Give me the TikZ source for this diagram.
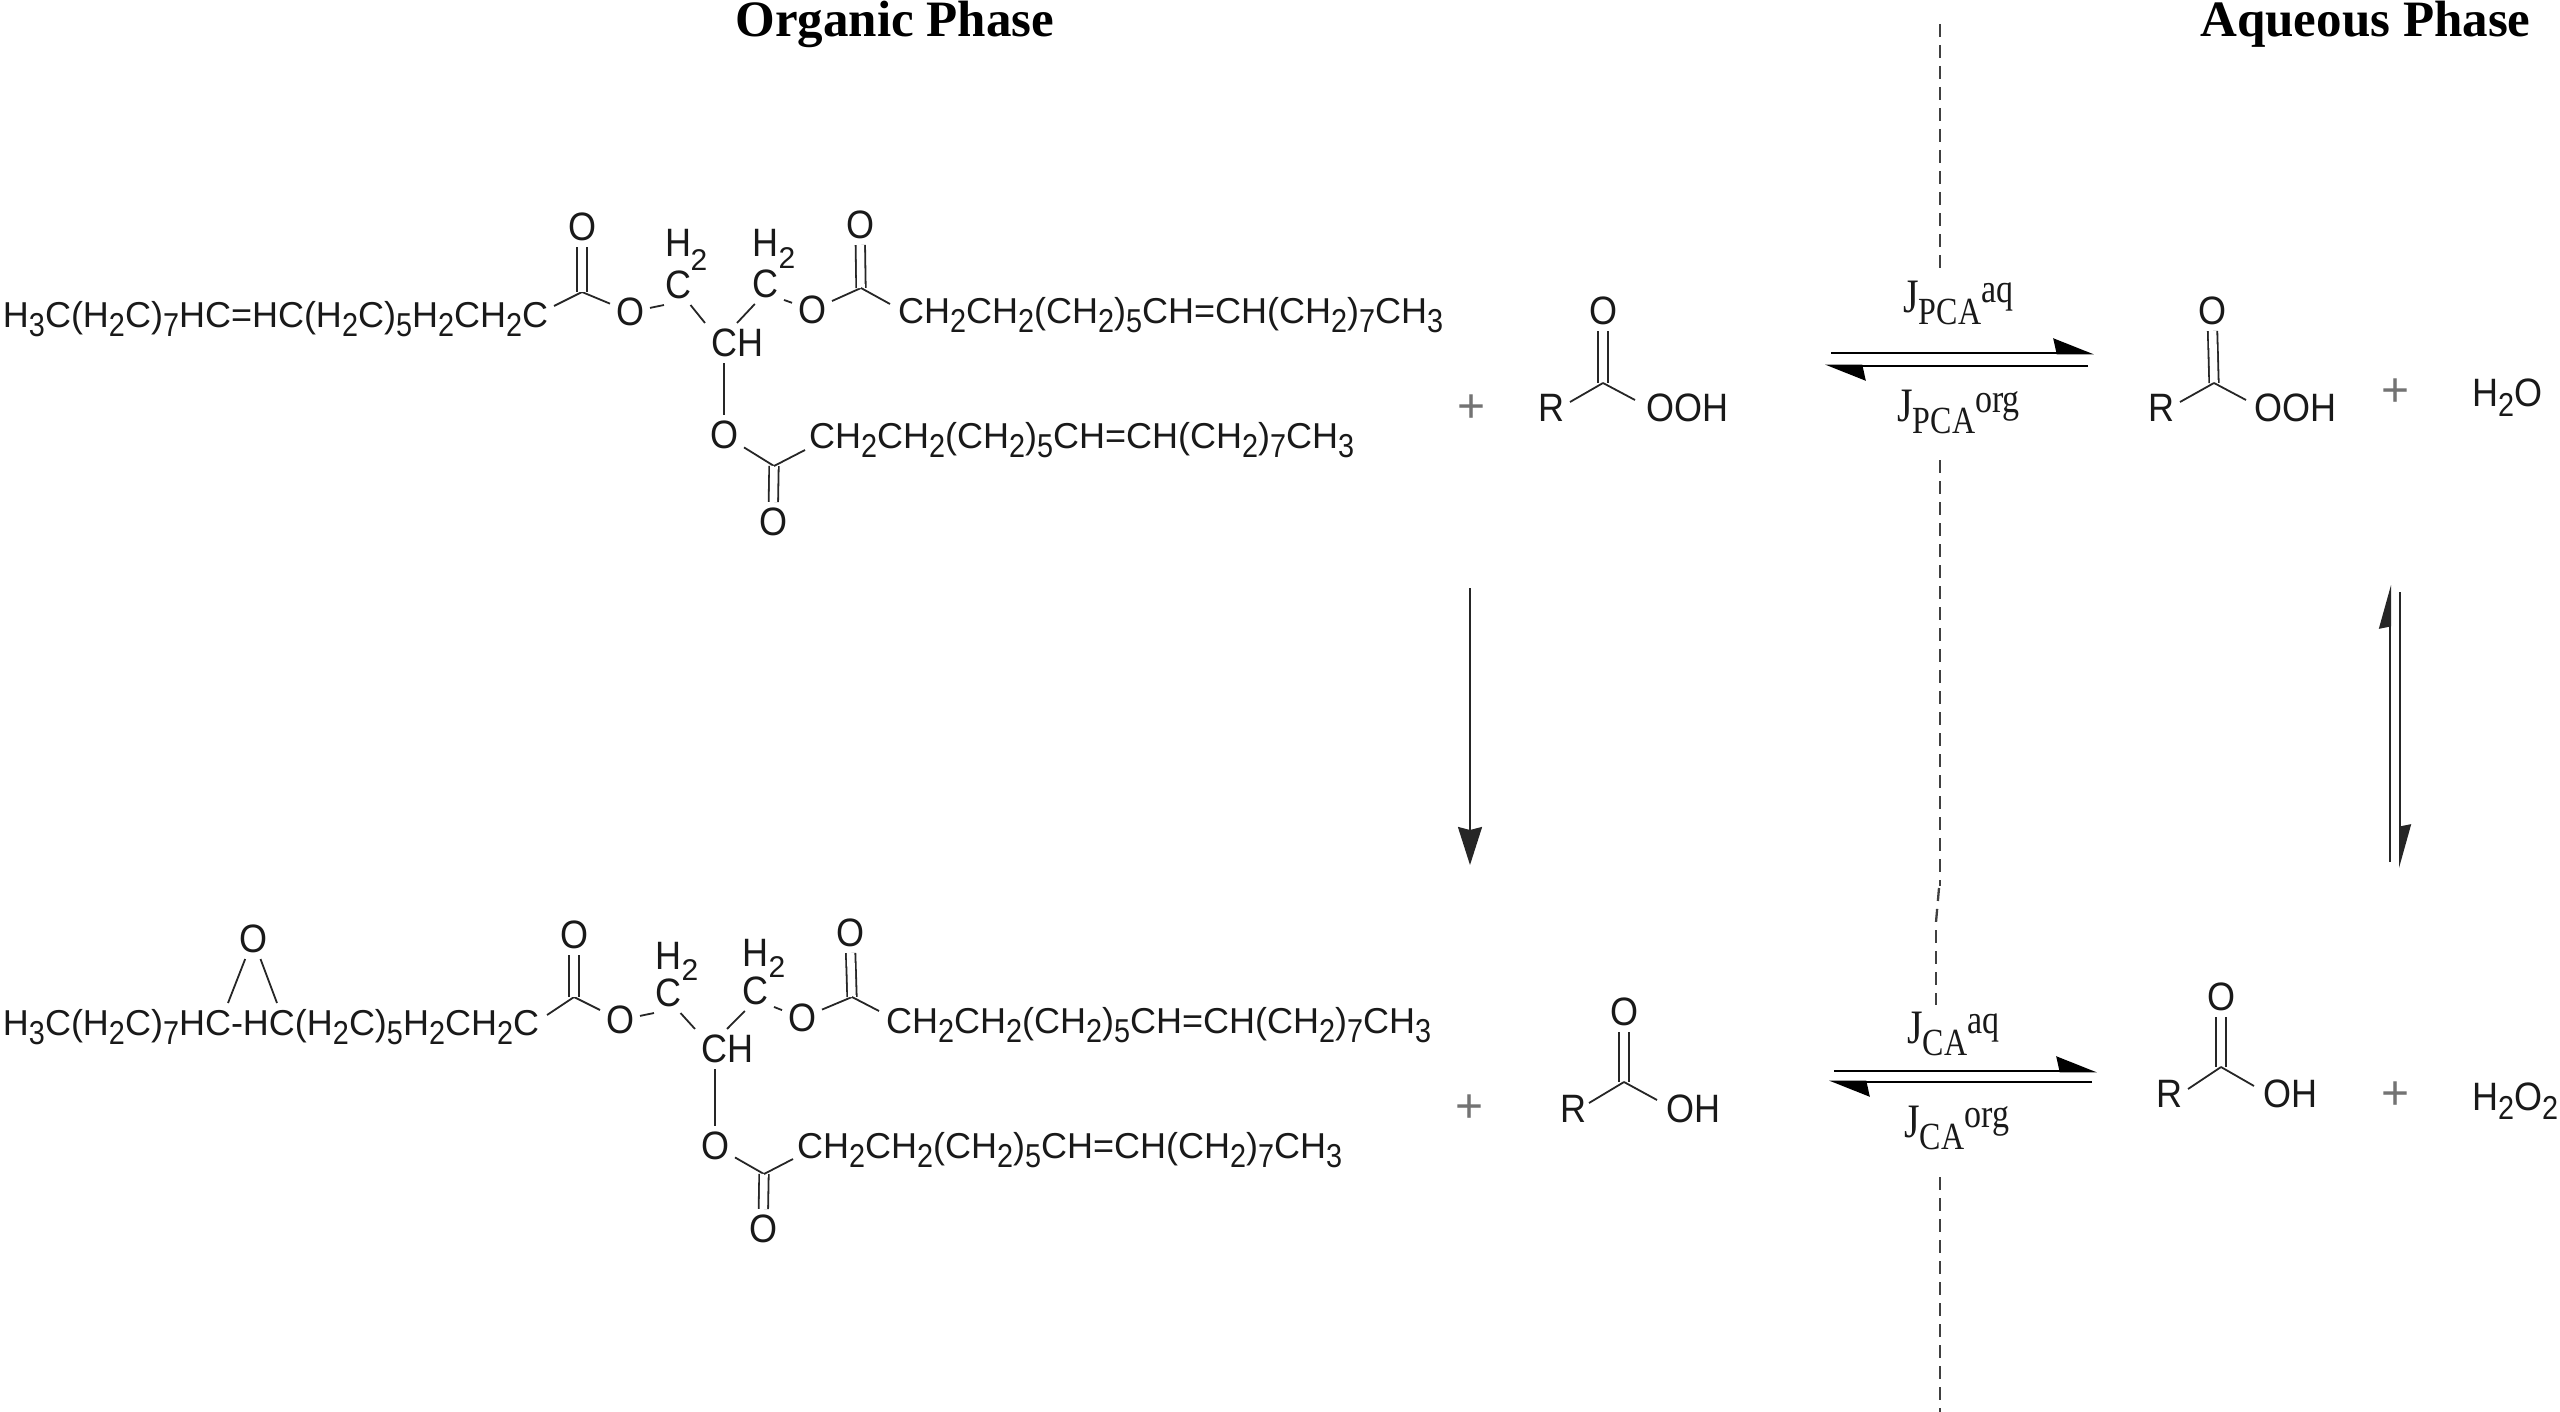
\documentclass[tikz,border=0pt]{standalone}
\usepackage{fontspec}
\usepackage{graphicx}
\setmainfont{Liberation Sans}
\newfontfamily\serifx{Liberation Serif}
\usetikzlibrary{arrows.meta,calc}
\newcommand\sbs[1]{\raisebox{-4.5pt}{\scalebox{1}[1.15]{\fontsize{14.4}{14.4}\selectfont #1}}}
\newcommand\tall[1]{\scalebox{1}[1.1]{#1}}
\newcommand\jlab[3]{\scalebox{1}[1.2]{\fontsize{20}{20}\selectfont J}\raisebox{-6pt}{\scalebox{1}[1.2]{\fontsize{16}{16}\selectfont #1}}\raisebox{5pt}{\scalebox{1}[1.2]{\fontsize{17}{17}\selectfont #2}}}
\tikzset{
  atom/.style={font=\fontsize{18}{18}\selectfont, inner sep=3pt, outer sep=0pt, text=black!90},
  subtwo/.style={font=\fontsize{15}{15}\selectfont, inner sep=0pt, text=black!90},
  chaintxt/.style={font=\fontsize{18}{18}\selectfont, inner sep=0pt, outer sep=0pt, anchor=base west, text=black!90},
  bond/.style={line width=0.9pt, black!85},
  dbl/.style={line width=0.9pt, black!85, double, double distance=3.8pt},
  plusx/.style={font=\fontsize{24}{24}\selectfont, inner sep=0pt, text=black!55},
  jtxt/.style={font=\serifx, inner sep=0pt, anchor=base west, text=black!90},
  titletxt/.style={font=\serifx\bfseries\fontsize{25.5}{25.5}\selectfont, inner sep=0pt, anchor=base west},
  flux/.style={line width=1.4pt, -{Stealth[length=18.5pt,width=14.5pt,inset=1.5pt,harpoon]}},
  slim/.style={line width=1pt, black!85, -{Stealth[length=20pt,width=11pt,inset=1pt,harpoon]}},
  down/.style={line width=1pt, black!85, -{Stealth[length=19pt,width=12pt,inset=1.5pt]}},
  iface/.style={line width=1.15pt, black!75, dash pattern=on 6.5pt off 4pt}
}
\begin{document}
\begin{tikzpicture}[x=0.5pt,y=-0.5pt]
\useasboundingbox (0,0) rectangle (2560,1412);
% titles
\node[titletxt] (t1) at (735,37) {Organic Phase};
\node[titletxt] (t2) at (2200,37) {Aqueous Phase};
% interface
\coordinate (d1) at (1940,24); \coordinate (d2) at (1940,268);
\coordinate (d3) at (1940,460); \coordinate (d4) at (1940,886);
\coordinate (d5) at (1939,888); \coordinate (d6) at (1936,922);
\coordinate (d9) at (1936,930); \coordinate (d10) at (1936,1005);
\coordinate (d7) at (1940,1177); \coordinate (d8) at (1940,1412);
\draw[iface] (d1) -- (d2);
\draw[iface] (d3) -- (d4);
\draw[iface] (d5) -- (d6);
\draw[iface] (d9) -- (d10);
\draw[iface] (d7) -- (d8);
%%%% top triglyceride
\node[chaintxt] (chA) at (3,328) {H\sbs{3}C(H\sbs{2}C)\sbs{7}HC=HC(H\sbs{2}C)\sbs{5}H\sbs{2}CH\sbs{2}C};
\coordinate (eA) at (554,306);
\coordinate (jA) at (582,292);
\node[atom] (oA) at (582,227) {\tall{O}};
\node[atom] (oB) at (630,312) {\tall{O}};
\node[atom] (cA) at (678,285) {\tall{C}};
\node[atom] (hA) at (678,243) {\tall{H}};
\node[subtwo] (sA) at (699,260) {2};
\node[atom] (chc) at (737,343) {\tall{CH}};
\node[atom] (cB) at (765,284) {\tall{C}};
\node[atom] (hB) at (765,243) {\tall{H}};
\node[subtwo] (sB) at (787,258) {2};
\node[atom] (oC) at (812,310) {\tall{O}};
\coordinate (jB) at (861,288);
\node[atom] (oD) at (860,225) {\tall{O}};
\coordinate (eB) at (890,304);
\node[chaintxt] (chB) at (898,323) {CH\sbs{2}CH\sbs{2}(CH\sbs{2})\sbs{5}CH=CH(CH\sbs{2})\sbs{7}CH\sbs{3}};
\node[atom] (oE) at (724,435) {\tall{O}};
\coordinate (jC) at (774,466);
\node[atom] (oF) at (773,522) {\tall{O}};
\coordinate (eC) at (805,450);
\node[chaintxt] (chC) at (809,448) {CH\sbs{2}CH\sbs{2}(CH\sbs{2})\sbs{5}CH=CH(CH\sbs{2})\sbs{7}CH\sbs{3}};
\draw[bond] (eA) -- (jA);
\draw[bond] (jA) -- (oB);
\draw[dbl] (jA) -- (oA);
\draw[bond] (oB) -- (cA.235);
\draw[bond] (cA.-58) -- (chc.north west);
\draw[bond] (cB.243) -- (chc.north);
\draw[bond] (cB.-40) -- (oC);
\draw[bond] (oC) -- (jB);
\draw[dbl] (jB) -- (oD);
\draw[bond] (jB) -- (eB);
\draw[bond] (oE) -- (oE |- chc.south);
\draw[bond] (oE) -- (jC);
\draw[dbl] (jC) -- (oF);
\draw[bond] (jC) -- (eC);
\node[plusx] (p1) at (1471,409) {+};
%%%% PCA left
\node[atom] (pO) at (1603,311) {\tall{O}};
\coordinate (pJ) at (1603,383);
\node[chaintxt] (pR) at (1538,422) {\tall{R}};
\node[chaintxt] (pOOH) at (1646,422) {\tall{OOH}};
\coordinate (pRe) at (1570,402);
\coordinate (pOe) at (1635,400);
\draw[dbl] (pJ) -- (pO);
\draw[bond] (pJ) -- (pRe);
\draw[bond] (pJ) -- (pOe);
%%%% PCA arrows
\coordinate (a1) at (1831,353); \coordinate (a2) at (2094,353);
\coordinate (a3) at (2088,366); \coordinate (a4) at (1825,366);
\draw[flux] (a1) -- (a2);
\draw[flux] (a3) -- (a4);
\node[jtxt] (j1) at (1903,313) {\jlab{PCA}{aq}{}};
\node[jtxt] (j2) at (1897,422) {\jlab{PCA}{org}{}};
%%%% PCA right
\node[atom] (qO) at (2212,311) {\tall{O}};
\coordinate (qJ) at (2214,383);
\node[chaintxt] (qR) at (2148,422) {\tall{R}};
\node[chaintxt] (qOOH) at (2254,422) {\tall{OOH}};
\coordinate (qRe) at (2180,402);
\coordinate (qOe) at (2246,400);
\draw[dbl] (qJ) -- (qO);
\draw[bond] (qJ) -- (qRe);
\draw[bond] (qJ) -- (qOe);
\node[plusx] (p2) at (2395,393) {+};
\node[chaintxt] (w1) at (2472,407) {\tall{H}\sbs{2}\tall{O}};
%%%% vertical arrows
\coordinate (v1) at (1470,588); \coordinate (v2) at (1470,865);
\draw[down] (v1) -- (v2);
\coordinate (v3) at (2390,862); \coordinate (v4) at (2390,585);
\coordinate (v5) at (2400,592); \coordinate (v6) at (2400,868);
\draw[slim] (v3) -- (v4);
\draw[slim] (v5) -- (v6);
%%%% bottom triglyceride
\node[chaintxt] (chD) at (3,1035) {H\sbs{3}C(H\sbs{2}C)\sbs{7}HC-HC(H\sbs{2}C)\sbs{5}H\sbs{2}CH\sbs{2}C};
\node[atom] (xO) at (253,939) {\tall{O}};
\coordinate (x1) at (228,1003); \coordinate (x2) at (277,1003);
\draw[bond] (xO) -- (x1);
\draw[bond] (xO) -- (x2);
\coordinate (eD) at (547,1015);
\coordinate (jD) at (574,997);
\node[atom] (uA) at (574,935) {\tall{O}};
\node[atom] (uB) at (620,1020) {\tall{O}};
\node[atom] (dA) at (668,993) {\tall{C}};
\node[atom] (hC) at (668,956) {\tall{H}};
\node[subtwo] (sC) at (690,970) {2};
\node[atom] (chd) at (727,1049) {\tall{CH}};
\node[atom] (dB) at (755,991) {\tall{C}};
\node[atom] (hD) at (755,953) {\tall{H}};
\node[subtwo] (sD) at (777,967) {2};
\node[atom] (uC) at (802,1018) {\tall{O}};
\coordinate (jE) at (852,997);
\node[atom] (uD) at (850,933) {\tall{O}};
\coordinate (eE) at (879,1011);
\node[chaintxt] (chE) at (886,1033) {CH\sbs{2}CH\sbs{2}(CH\sbs{2})\sbs{5}CH=CH(CH\sbs{2})\sbs{7}CH\sbs{3}};
\node[atom] (uE) at (715,1146) {\tall{O}};
\coordinate (jF) at (764,1174);
\node[atom] (uF) at (763,1229) {\tall{O}};
\coordinate (eF) at (793,1159);
\node[chaintxt] (chF) at (797,1158) {CH\sbs{2}CH\sbs{2}(CH\sbs{2})\sbs{5}CH=CH(CH\sbs{2})\sbs{7}CH\sbs{3}};
\draw[bond] (eD) -- (jD);
\draw[bond] (jD) -- (uB);
\draw[dbl] (jD) -- (uA);
\draw[bond] (uB) -- (dA.235);
\draw[bond] (dA.-58) -- (chd.north west);
\draw[bond] (dB.243) -- (chd.north);
\draw[bond] (dB.-40) -- (uC);
\draw[bond] (uC) -- (jE);
\draw[dbl] (jE) -- (uD);
\draw[bond] (jE) -- (eE);
\draw[bond] (uE) -- (uE |- chd.south);
\draw[bond] (uE) -- (jF);
\draw[dbl] (jF) -- (uF);
\draw[bond] (jF) -- (eF);
\node[plusx] (p3) at (1469,1109) {+};
%%%% CA left
\node[atom] (rO) at (1624,1012) {\tall{O}};
\coordinate (rJ) at (1624,1082);
\node[chaintxt] (rR) at (1560,1122) {\tall{R}};
\node[chaintxt] (rOH) at (1666,1122) {\tall{OH}};
\coordinate (rRe) at (1589,1103);
\coordinate (rOe) at (1657,1100);
\draw[dbl] (rJ) -- (rO);
\draw[bond] (rJ) -- (rRe);
\draw[bond] (rJ) -- (rOe);
%%%% CA arrows
\coordinate (b1) at (1834,1071); \coordinate (b2) at (2097,1071);
\coordinate (b3) at (2092,1082); \coordinate (b4) at (1829,1082);
\draw[flux] (b1) -- (b2);
\draw[flux] (b3) -- (b4);
\node[jtxt] (j3) at (1907,1043) {\jlab{CA}{aq}{}};
\node[jtxt] (j4) at (1904,1137) {\jlab{CA}{org}{}};
%%%% CA right
\node[atom] (sO) at (2221,997) {\tall{O}};
\coordinate (sJ) at (2221,1067);
\node[chaintxt] (sR) at (2156,1107) {\tall{R}};
\node[chaintxt] (sOH) at (2263,1107) {\tall{OH}};
\coordinate (sRe) at (2188,1089);
\coordinate (sOe) at (2254,1086);
\draw[dbl] (sJ) -- (sO);
\draw[bond] (sJ) -- (sRe);
\draw[bond] (sJ) -- (sOe);
\node[plusx] (p4) at (2395,1096) {+};
\node[chaintxt] (w2) at (2472,1110) {\tall{H}\sbs{2}\tall{O}\sbs{2}};
\end{tikzpicture}
\end{document}
